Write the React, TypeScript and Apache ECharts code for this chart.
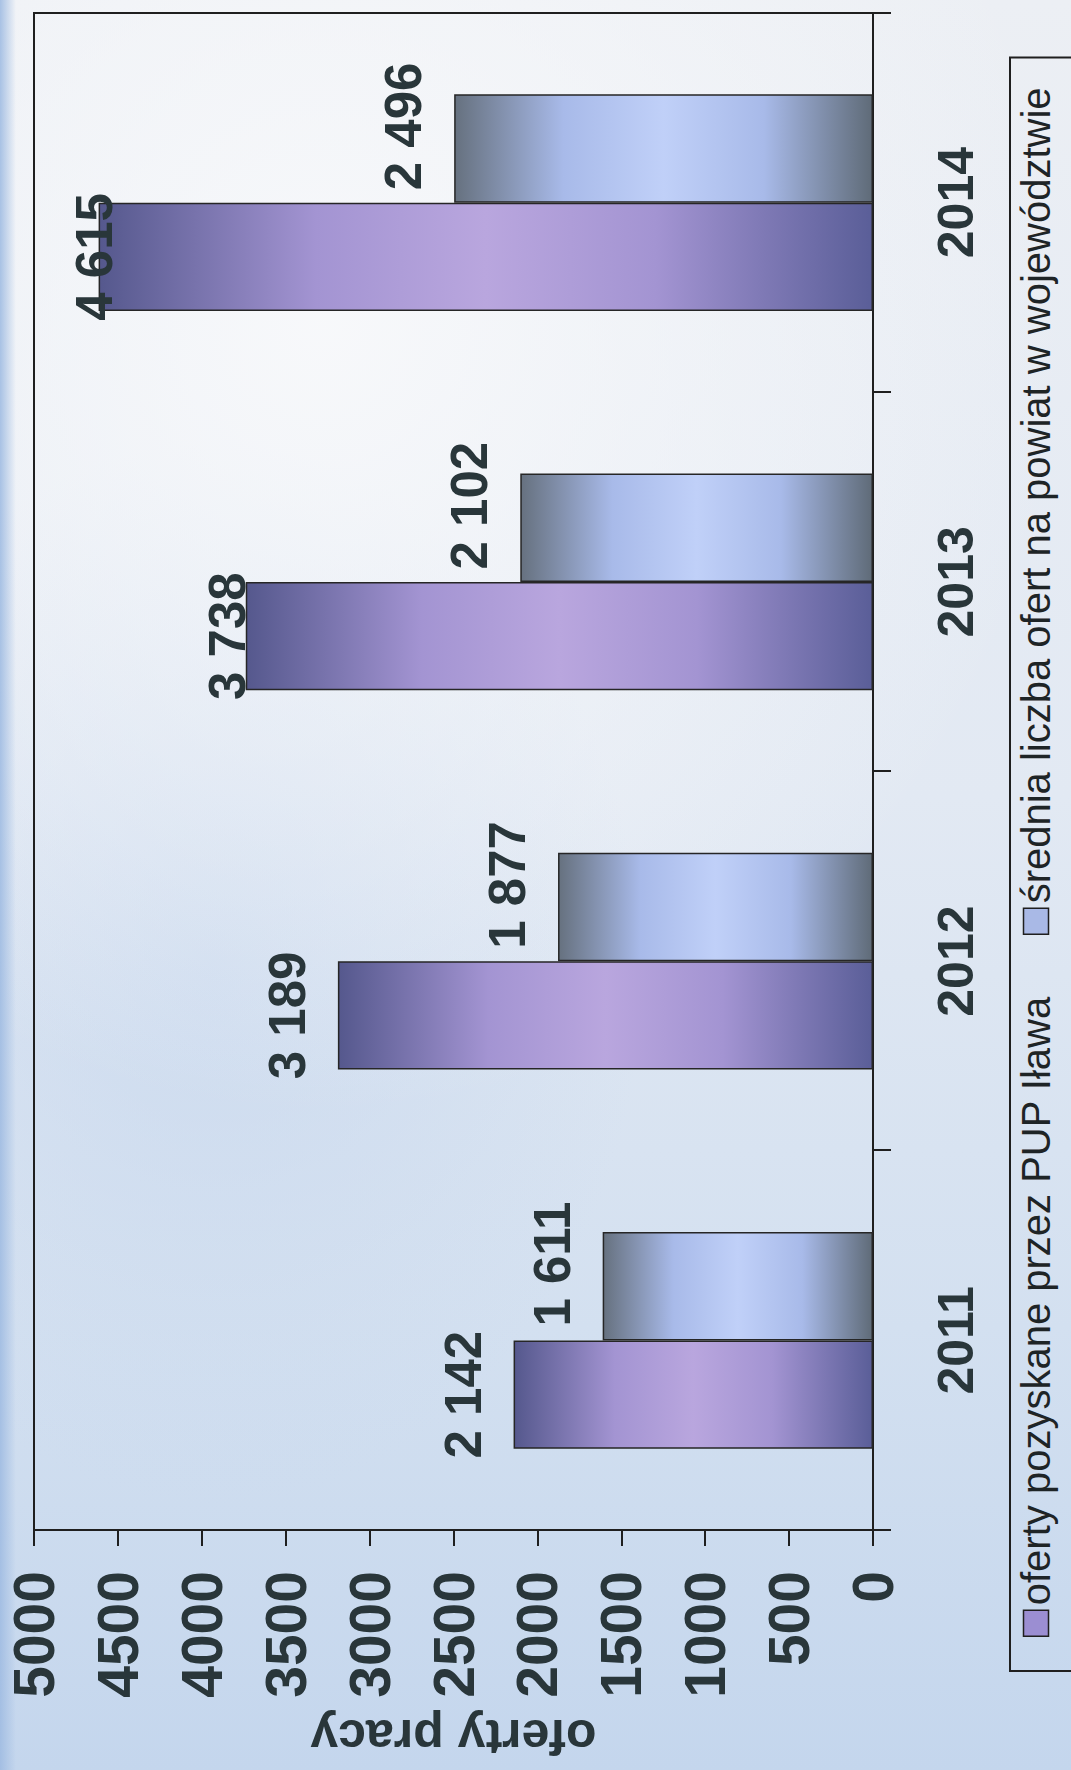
import React, { useEffect, useRef } from "react";
import * as echarts from "echarts";

const categories = ["2011", "2012", "2013", "2014"];
const pupValues = [2142, 3189, 3738, 4615];
const avgValues = [1611, 1877, 2102, 2496];
const seriesNames = [
  "oferty pozyskane przez PUP Iława",
  "średnia liczba ofert na powiat w województwie",
];
const axisTitle = "oferty pracy";
const valueMin = 0;
const valueMax = 5000;
const valueStep = 500;
// label shift (towards the bar) used by the original for the two tallest labels
const pupLabelShift = [0, 0, 32, 46];

const FONT = "'Liberation Sans', Arial, Helvetica, sans-serif";
const INK = "#29363a";
const LINE = "#1f1f1f";

const fmt = (v: number) => String(v).replace(/\B(?=(\d{3})+(?!\d))/g, " ");

export default function App() {
  const ref = useRef<HTMLDivElement>(null);

  useEffect(() => {
    if (!ref.current) return;
    const chart = echarts.init(ref.current, undefined, { renderer: "svg" });

    const purple = new echarts.graphic.LinearGradient(0, 0, 0, 1, [
      { offset: 0, color: "#55588d" },
      { offset: 0.28, color: "#a394d2" },
      { offset: 0.5, color: "#b9a6de" },
      { offset: 0.72, color: "#a394d2" },
      { offset: 1, color: "#5a5e98" },
    ]);
    const blue = new echarts.graphic.LinearGradient(0, 0, 0, 1, [
      { offset: 0, color: "#66717f" },
      { offset: 0.26, color: "#a8bae9" },
      { offset: 0.5, color: "#c0d0f8" },
      { offset: 0.74, color: "#a8bae9" },
      { offset: 1, color: "#5f6b78" },
    ]);

    const labelBase = {
      show: true,
      position: "top",
      distance: 25,
      fontFamily: FONT,
      fontSize: 51,
      fontWeight: "bold",
      color: INK,
      formatter: (p: any) => fmt(p.value),
    };

    chart.setOption({
      animation: false,
      backgroundColor: "transparent",
      textStyle: { fontFamily: FONT },
      grid: {
        left: 233,
        right: 13,
        top: 34,
        bottom: 198,
        show: true,
        borderColor: LINE,
        borderWidth: 2,
        backgroundColor: "transparent",
      },
      legend: {
        orient: "horizontal",
        left: 99,
        top: 1010,
        padding: [6, 30, 60, 34],
        itemWidth: 26,
        itemHeight: 25,
        itemGap: 61,
        borderColor: LINE,
        borderWidth: 2,
        textStyle: {
          fontFamily: FONT,
          fontSize: 40,
          color: "#1e2426",
          padding: [14, 0, 0, 0],
        },
        data: [
          {
            name: seriesNames[0],
            icon: "rect",
            itemStyle: { color: "#9b8ed2", borderColor: LINE, borderWidth: 1.5 },
          },
          {
            name: seriesNames[1],
            icon: "rect",
            itemStyle: { color: "#a9b9e6", borderColor: LINE, borderWidth: 1.5 },
          },
        ],
      },
      xAxis: {
        type: "category",
        data: categories,
        axisLine: { show: true, lineStyle: { color: LINE, width: 2 } },
        axisTick: { show: true, length: 18, lineStyle: { color: LINE, width: 2 } },
        axisLabel: {
          margin: 58,
          fontFamily: FONT,
          fontSize: 50,
          fontWeight: "bold",
          color: INK,
        },
        splitLine: { show: false },
      },
      yAxis: {
        type: "value",
        min: valueMin,
        max: valueMax,
        interval: valueStep,
        axisLine: { show: true, lineStyle: { color: LINE, width: 2 } },
        axisTick: { show: true, length: 16, lineStyle: { color: LINE, width: 2 } },
        axisLabel: {
          margin: 41,
          fontFamily: FONT,
          fontSize: 57,
          fontWeight: "bold",
          color: INK,
          formatter: (v: number) => String(v),
        },
        splitLine: { show: false },
        name: axisTitle,
        nameLocation: "middle",
        nameRotate: 90,
        nameGap: 182,
        nameTextStyle: {
          fontFamily: FONT,
          fontSize: 50,
          fontWeight: "bold",
          color: INK,
        },
      },
      series: [
        {
          type: "bar",
          name: seriesNames[0],
          data: pupValues.map((v, i) =>
            pupLabelShift[i] ? { value: v, label: { offset: [0, pupLabelShift[i]] } } : v
          ),
          barGap: "0%",
          barCategoryGap: "42.8%",
          itemStyle: { color: purple, borderColor: "#262626", borderWidth: 1.5 },
          label: { ...labelBase },
        },
        {
          type: "bar",
          name: seriesNames[1],
          data: avgValues,
          barGap: "0%",
          barCategoryGap: "42.8%",
          itemStyle: { color: blue, borderColor: "#262626", borderWidth: 1.5 },
          label: { ...labelBase, offset: [22, 0] },
        },
      ],
    });

    return () => chart.dispose();
  }, []);

  return (
    <div
      style={{
        position: "absolute",
        left: 0,
        top: 0,
        width: 1071,
        height: 1770,
        overflow: "hidden",
        background:
          "linear-gradient(to right, rgba(160,188,226,0.9) 0px, rgba(170,195,230,0) 16px), " +
          "radial-gradient(ellipse 70% 45% at 30% 18%, rgba(248,249,251,0.95), rgba(248,249,251,0) 100%), " +
          "radial-gradient(ellipse 40% 30% at 20% 55%, rgba(200,216,238,0.7), rgba(200,216,238,0) 100%), " +
          "linear-gradient(to bottom, #eceff4 0%, #e2e9f3 45%, #d3e0f0 75%, #c4d6ed 100%)",
      }}
    >
      <div
        ref={ref}
        style={{
          position: "absolute",
          left: 0,
          top: 0,
          width: 1770,
          height: 1071,
          transformOrigin: "0 0",
          transform: "translateY(1770px) rotate(-90deg)",
        }}
      />
    </div>
  );
}
